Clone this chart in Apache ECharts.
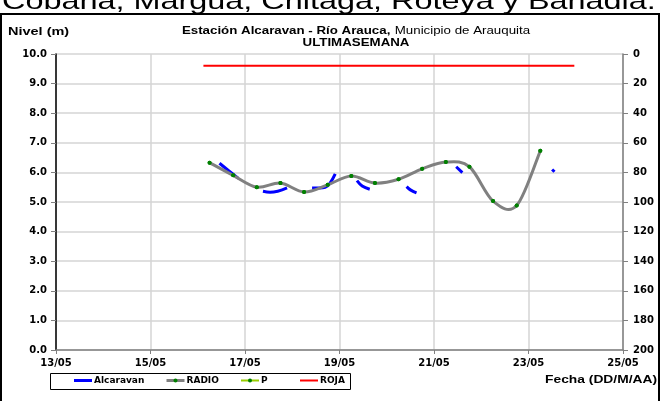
<!DOCTYPE html>
<html><head><meta charset="utf-8">
<script src="https://cdn.jsdelivr.net/npm/echarts@6/dist/echarts.min.js"></script>
<style>html,body{margin:0;padding:0;background:#fff}#c{width:661px;height:401px}</style>
</head><body><div id="c"></div>
<script>
// X values are days of May (decimal), ticks every 2 days
const xTickMin = 13, xTickMax = 25, xTickStep = 2;
const leftTicks = {min: 0, max: 10, step: 1};
const rightTicks = {min: 0, max: 200, step: 20};

// RADIO / P readings (every 12 h)
const radioDays = [16.25, 16.75, 17.25, 17.75, 18.25, 18.75, 19.25, 19.75, 20.25, 20.75, 21.25, 21.75, 22.25, 22.75, 23.25];
const radioValues = [6.33, 5.90, 5.50, 5.64, 5.34, 5.58, 5.88, 5.64, 5.77, 6.12, 6.35, 6.19, 5.03, 4.88, 6.73];
const pValues = [6.33, 5.90, 5.50, 5.64, 5.34, 5.58, 5.88, 5.64, 5.77, 6.12, 6.35, 6.19, 5.03, 4.88, 6.73];

// Alcaravan readings (null = gap)
const alcDays = [16.46, 16.66, 16.86, 17.0,
  17.38, 17.53, 17.89, 18.0,
  18.42, 18.70, 18.80, 18.91, 19.0,
  19.37, 19.48, 19.64, 20.0,
  20.42, 20.50, 20.63, 21.0,
  21.47, 21.60, 22.0,
  23.50, 23.55];
const alcValues = [6.31, 6.05, 5.80, null,
  5.36, 5.33, 5.48, null,
  5.47, 5.50, 5.64, 5.95, null,
  5.72, 5.54, 5.43, null,
  5.52, 5.41, 5.31, null,
  6.19, 5.99, null,
  6.10, 6.02];

// ROJA alert level
const rojaDays = [16.12, 23.97];
const rojaValues = [9.6, 9.6];

const FONT = '"Liberation Sans", Arial, sans-serif';
const WFONT = '"DejaVu Sans", "Liberation Sans", sans-serif';
const pad = v => (v < 10 ? '0' : '') + v;
const zip = (xs, ys) => xs.map((x, i) => [x, ys[i] == null ? '-' : ys[i]]);

const chart = echarts.init(document.getElementById('c'), null, {renderer: 'canvas'});

function legendAt(item, left, extra) {
  return Object.assign({
    data: [item], left: left, top: 376, itemWidth: 18, itemHeight: 5, itemGap: 2, padding: 0,
    textStyle: {fontFamily: WFONT, fontSize: 9, fontWeight: 'bold', color: '#000', padding: [0, 0, 0, -3]},
    selectedMode: false
  }, extra || {});
}

// Excel-like smoothed curve through the RADIO points (rendering only, via axis coords)
function radioCurve(params, api) {
  const i = params.dataIndex, n = radioDays.length;
  if (i >= n - 1) return null;
  const P = k => {
    const j = Math.max(0, Math.min(n - 1, k));
    return api.coord([radioDays[j], radioValues[j]]);
  };
  const p0 = P(i - 1), p1 = P(i), p2 = P(i + 1), p3 = P(i + 2);
  const t = 1 / 6;
  return {
    type: 'bezierCurve',
    shape: {
      x1: p1[0], y1: p1[1], x2: p2[0], y2: p2[1],
      cpx1: p1[0] + (p2[0] - p0[0]) * t, cpy1: p1[1] + (p2[1] - p0[1]) * t,
      cpx2: p2[0] - (p3[0] - p1[0]) * t, cpy2: p2[1] - (p3[1] - p1[1]) * t
    },
    style: {stroke: '#808080', lineWidth: 3, fill: null, lineCap: 'round'}
  };
}

const labelStyle = {fontFamily: WFONT, fontSize: 10, fontWeight: 'bold', color: '#000'};

chart.setOption({
  animation: false,
  backgroundColor: '#fff',
  textStyle: {fontFamily: FONT},
  grid: {left: 56, right: 38, top: 54, bottom: 51},
  legend: [
    legendAt({name: 'Alcaravan', icon: 'rect'}, 74, {itemHeight: 3}),
    legendAt('RADIO', 165, {lineStyle: {opacity: 1, color: '#808080', width: 3}}),
    legendAt('P', 240, {lineStyle: {opacity: 1, color: '#99cc00', width: 2}}),
    legendAt({name: 'ROJA', icon: 'rect'}, 300, {itemHeight: 2})
  ],
  xAxis: {
    type: 'value', min: xTickMin, max: xTickMax, interval: xTickStep,
    axisLine: {show: true, lineStyle: {color: '#808080', width: 1.5}},
    axisTick: {show: true, length: 4, lineStyle: {color: '#808080'}},
    splitLine: {show: true, lineStyle: {color: '#d4d4d4', width: 1.5}},
    axisLabel: Object.assign({formatter: v => pad(v) + '/05', margin: 8}, labelStyle)
  },
  yAxis: [{
    type: 'value', min: leftTicks.min, max: leftTicks.max, interval: leftTicks.step,
    axisLine: {show: true, lineStyle: {color: '#000', width: 1.5}},
    axisTick: {show: true, length: 5, lineStyle: {color: '#808080'}},
    splitLine: {show: true, lineStyle: {color: '#d4d4d4', width: 1.5}},
    axisLabel: Object.assign({formatter: v => v.toFixed(1), margin: 9}, labelStyle)
  }, {
    type: 'value', position: 'right', inverse: true,
    min: rightTicks.min, max: rightTicks.max, interval: rightTicks.step,
    axisLine: {show: true, lineStyle: {color: '#808080', width: 1.5}},
    axisTick: {show: true, length: 5, lineStyle: {color: '#808080'}},
    splitLine: {show: false},
    axisLabel: Object.assign({margin: 10}, labelStyle)
  }],
  series: [{
    name: 'Alcaravan', type: 'line', yAxisIndex: 0,
    data: zip(alcDays, alcValues), connectNulls: false, smooth: 0.4,
    symbol: 'none', lineStyle: {color: '#0000ff', width: 3}, itemStyle: {color: '#0000ff'}, z: 2
  }, {
    name: 'RADIO-curve', type: 'custom', yAxisIndex: 0, silent: true,
    data: zip(radioDays, radioValues), renderItem: radioCurve, z: 3
  }, {
    name: 'RADIO', type: 'line', yAxisIndex: 0,
    data: zip(radioDays, radioValues),
    symbol: 'circle', symbolSize: 4, showSymbol: true,
    lineStyle: {color: '#808080', width: 3, opacity: 0}, itemStyle: {color: '#008000'}, z: 4
  }, {
    name: 'P', type: 'line', yAxisIndex: 0,
    data: zip(radioDays, pValues),
    symbol: 'circle', symbolSize: 4,
    lineStyle: {color: '#99cc00', width: 1.5, opacity: 0}, itemStyle: {color: '#008000'}, z: 5
  }, {
    name: 'ROJA', type: 'line', yAxisIndex: 0,
    data: zip(rojaDays, rojaValues),
    symbol: 'none', lineStyle: {color: '#ff0000', width: 2}, itemStyle: {color: '#ff0000'}, z: 5
  }],
  graphic: [
    {type: 'text', x: 2, y: -10, scaleX: 1.35, silent: true,
     style: {x: 0, y: 0, verticalAlign: 'top',
       text: 'Cobaña, Margua, Chitaga, Roteya y Banadia.', font: '24px ' + FONT, fill: '#000'}},
    {type: 'rect', shape: {x: 1, y: 14, width: 658, height: 400}, silent: true,
     style: {fill: 'none', stroke: '#000', lineWidth: 2}},
    {type: 'rect', shape: {x: 50.5, y: 373.5, width: 300, height: 16}, silent: true,
     style: {fill: 'none', stroke: '#000', lineWidth: 1}},
    {type: 'text', x: 356, y: 25, scaleX: 1.33, silent: true,
     style: {x: 0, y: 0, align: 'center', verticalAlign: 'top',
       text: '{b|Estación Alcaravan - Río Arauca,} {n|Municipio de Arauquita}',
       rich: {
         b: {font: 'bold 10px ' + FONT, fill: '#000'},
         n: {font: '10px ' + FONT, fill: '#000'}
       }}},
    {type: 'text', x: 356, y: 38.5, scaleX: 1.33, silent: true,
     style: {x: 0, y: 0, align: 'center', verticalAlign: 'top',
       text: 'ULTIMASEMANA', font: 'bold 10px ' + FONT, fill: '#000'}},
    {type: 'text', x: 8, y: 27, scaleX: 1.38, silent: true,
     style: {x: 0, y: 0, verticalAlign: 'top', text: 'Nivel (m)', font: 'bold 10.5px ' + FONT, fill: '#000'}},
    {type: 'text', x: 657, y: 375, scaleX: 1.38, silent: true,
     style: {x: 0, y: 0, align: 'right', verticalAlign: 'top', text: 'Fecha (DD/M/AA)', font: 'bold 10px ' + FONT, fill: '#000'}}
  ]
});
</script></body></html>
